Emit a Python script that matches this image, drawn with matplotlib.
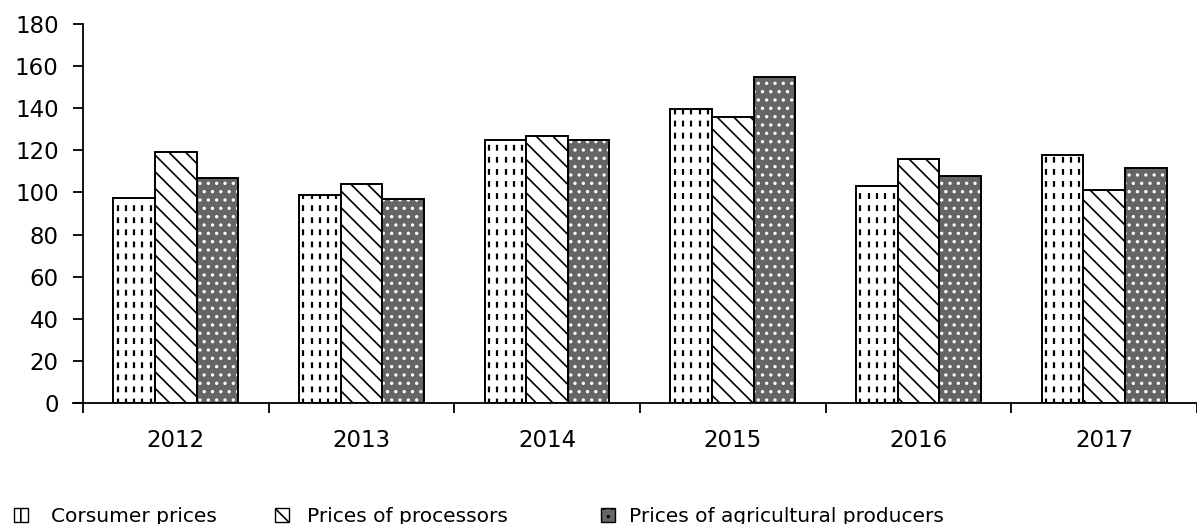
import matplotlib
matplotlib.use("Agg")
import matplotlib.pyplot as plt
import matplotlib.patches as mpatches
import numpy as np

years = ["2012", "2013", "2014", "2015", "2016", "2017"]
consumer = [97.5, 99, 125, 139.5, 103, 118]
processors = [119, 104, 127, 136, 116, 101]
agri = [107, 97, 125, 155, 108, 111.5]
labels = ["Corsumer prices", "Prices of processors", "Prices of agricultural producers"]

plt.rcParams['font.family'] = ['DejaVu Sans']
plt.rcParams['hatch.linewidth'] = 1.2
plt.rcParams['lines.scale_dashes'] = False

fig = plt.figure(figsize=(11.97, 5.24), dpi=100)
cat_px = 187.5
ax = fig.add_axes([73 / 1197, 121 / 524, 1 - 73 / 1197, 379 / 524])

x = np.arange(len(years))
w = 0.224

# consumer prices: white bars with dashed vertical strokes
b1 = ax.bar(x - w, consumer, w, color="white", edgecolor="black", linewidth=1.4, zorder=2)
for bar in b1:
    x0, bw, h = bar.get_x(), bar.get_width(), bar.get_height()
    xs = x0 + bw * (np.arange(5) + 0.5) / 5
    lc = ax.vlines(xs, 0, h, colors="black", linewidth=1.6,
                   linestyles=[(1, (4.2, 4.5))], zorder=3)
    lc.set_clip_path(bar)

# processors: diagonal hatch
ax.bar(x, processors, w, color="white", edgecolor="black", linewidth=1.4,
       hatch="\\\\", zorder=2)

# agricultural producers: grey with white dots
ax.bar(x + w, agri, w, color="#656565", edgecolor="white", linewidth=0,
       hatch="..", zorder=2)
ax.bar(x + w, agri, w, fill=False, edgecolor="black", linewidth=1.4, zorder=3)

ax.set_ylim(0, 180)
ax.set_yticks(np.arange(0, 181, 20))
ax.set_xlim(-0.5 - 10 / cat_px, -0.5 + (1197 - 83) / cat_px)
ax.spines["left"].set_position(("data", -0.5))
ax.set_xticks(x)
ax.set_xticklabels(years)
ax.set_xticks(np.arange(-0.5, 6, 1), minor=True)
ax.tick_params(axis="x", which="major", length=0, pad=19, labelsize=16.5)
ax.tick_params(axis="x", which="minor", length=7, width=1.3)
ax.tick_params(axis="y", length=7, width=1.3, labelsize=16.5, pad=10.5)
for s in ["top", "right"]:
    ax.spines[s].set_visible(False)
for s in ["left", "bottom"]:
    ax.spines[s].set_linewidth(1.3)

handles = [
    mpatches.Patch(facecolor="white", edgecolor="black", hatch="||"),
    mpatches.Patch(facecolor="white", edgecolor="black", hatch="\\\\"),
    mpatches.Patch(facecolor="#656565", edgecolor="black", hatch=".."),
]
leg_x = [14, 275, 601]
leg_pad = [1.15, 0.9, 0.7]
for h, lab, lx, tp in zip(handles, labels, leg_x, leg_pad):
    fig.legend([h], [lab], loc="center left", bbox_to_anchor=(lx / 1197, 0.015),
               frameon=False, borderpad=0, borderaxespad=0,
               prop={"family": ["DejaVu Sans"], "size": 14.5},
               handlelength=0.7, handleheight=0.7, handletextpad=tp)

fig.savefig("out.png", dpi=100)
